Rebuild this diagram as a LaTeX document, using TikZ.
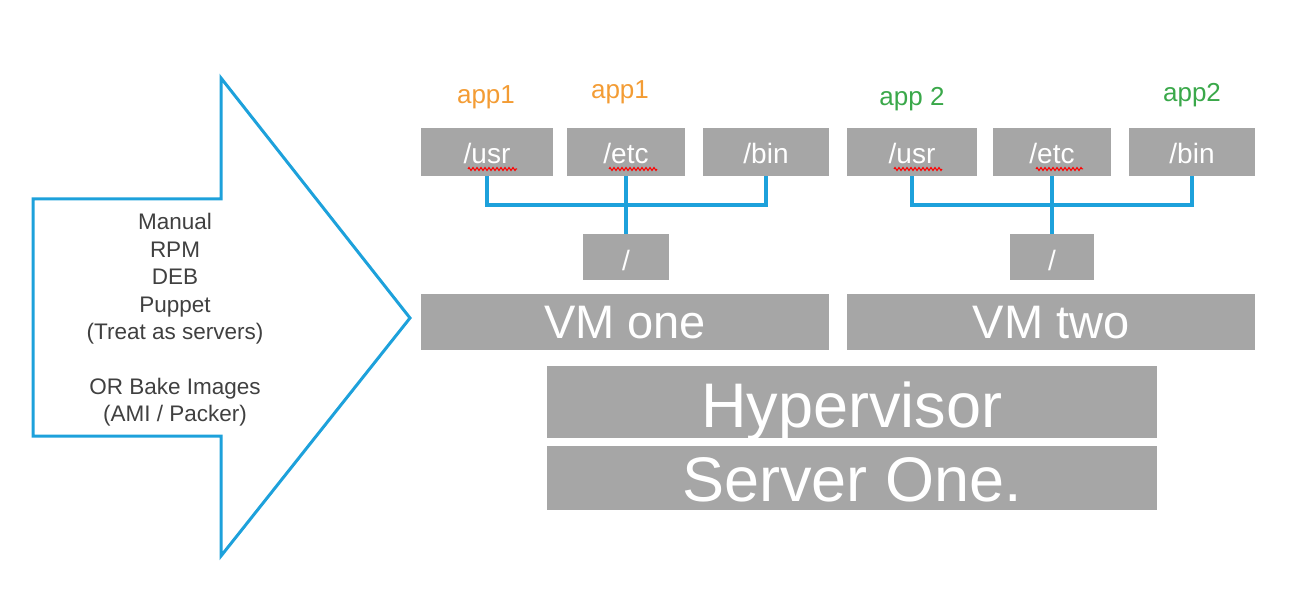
\documentclass[tikz,border=0pt]{standalone}
\usepackage{fontspec}
\setmainfont{Liberation Sans}
\usetikzlibrary{positioning,decorations.pathmorphing}

\definecolor{boxgray}{RGB}{166,166,166}
\definecolor{linkblue}{RGB}{29,161,219}
\definecolor{apporange}{RGB}{243,156,52}
\definecolor{appgreen}{RGB}{58,168,74}
\definecolor{textgray}{RGB}{64,64,64}

\begin{document}
\begin{tikzpicture}[x=1pt, y=-1pt,
    dir/.style = {fill=boxgray, text=white, inner sep=0pt, minimum height=48pt, text height=24pt, text depth=0pt, font=\fontsize{28}{30}\selectfont},
    root/.style = {dir, minimum height=46pt, text height=28pt},
    vm/.style = {fill=boxgray, text=white, inner sep=0pt, minimum width=408pt, minimum height=56pt, text height=32pt, text depth=0pt, font=\fontsize{47}{49}\selectfont},
    host/.style = {fill=boxgray, text=white, inner sep=0pt, minimum width=610pt, text depth=0pt, font=\fontsize{63}{65}\selectfont},
    app/.style = {font=\fontsize{26}{28}\selectfont, inner sep=0pt},
    link/.style = {draw=linkblue, line width=3.5pt},
    typo/.style = {draw=red, line width=1pt, decorate, decoration={zigzag, amplitude=1.5pt, segment length=4pt}}]
    \useasboundingbox (0,0) rectangle (1302,596);

    % the big arrow
    \draw[linkblue, line width=3pt] (33,199) -- (221,199) -- (221,78) -- (410,318)
        -- (221,556) -- (221,436) -- (33,436) -- cycle;
    \node[text=textgray, align=center, font=\fontsize{22.5}{27.4}\selectfont] (ways) at (175,320)
        {Manual\\RPM\\DEB\\Puppet\\(Treat as servers)\\[27.4pt]OR Bake Images\\(AMI / Packer)};

    % VM one
    \node[dir, minimum width=132pt] (usrA) at (487,152) {/usr};
    \node[dir, minimum width=118pt] (etcA) at (626,152) {/etc};
    \node[dir, minimum width=126pt] (binA) at (766,152) {/bin};
    \node[root, minimum width=86pt] (rootA) at (626,257) {/};
    \node[vm] (vmA) at (625,322) {VM one};
    \node[app, text=apporange] (appA1) at (486,97) {app1};
    \node[app, text=apporange] (appA2) at (620,92) {app1};

    % VM two
    \node[dir, minimum width=130pt] (usrB) at (912,152) {/usr};
    \node[dir, minimum width=118pt] (etcB) at (1052,152) {/etc};
    \node[dir, minimum width=126pt] (binB) at (1192,152) {/bin};
    \node[root, minimum width=84pt] (rootB) at (1052,257) {/};
    \node[vm] (vmB) at (1051,322) {VM two};
    \node[app, text=appgreen] (appB1) at (912,99) {app 2};
    \node[app, text=appgreen] (appB2) at (1192,95) {app2};

    % host
    \node[host, minimum height=72pt, text height=50pt] (hyper) at (852,402) {Hypervisor};
    \node[host, minimum height=64pt, text height=46pt] (server) at (852,478) {Server One.};

    % connectors
    \coordinate (busA) at (626,205);
    \coordinate (busB) at (1052,205);
    \draw[link] (usrA.south) |- (busA) -| (binA.south);
    \draw[link] (etcA.south) -- (rootA.north);
    \draw[link] (usrB.south) |- (busB) -| (binB.south);
    \draw[link] (etcB.south) -- (rootB.north);

    % spell check marks
    \draw[typo] (468,169) -- (517,169);
    \draw[typo] (609,169) -- (657,169);
    \draw[typo] (894,169) -- (942,169);
    \draw[typo] (1036,169) -- (1083,169);
\end{tikzpicture}
\end{document}
